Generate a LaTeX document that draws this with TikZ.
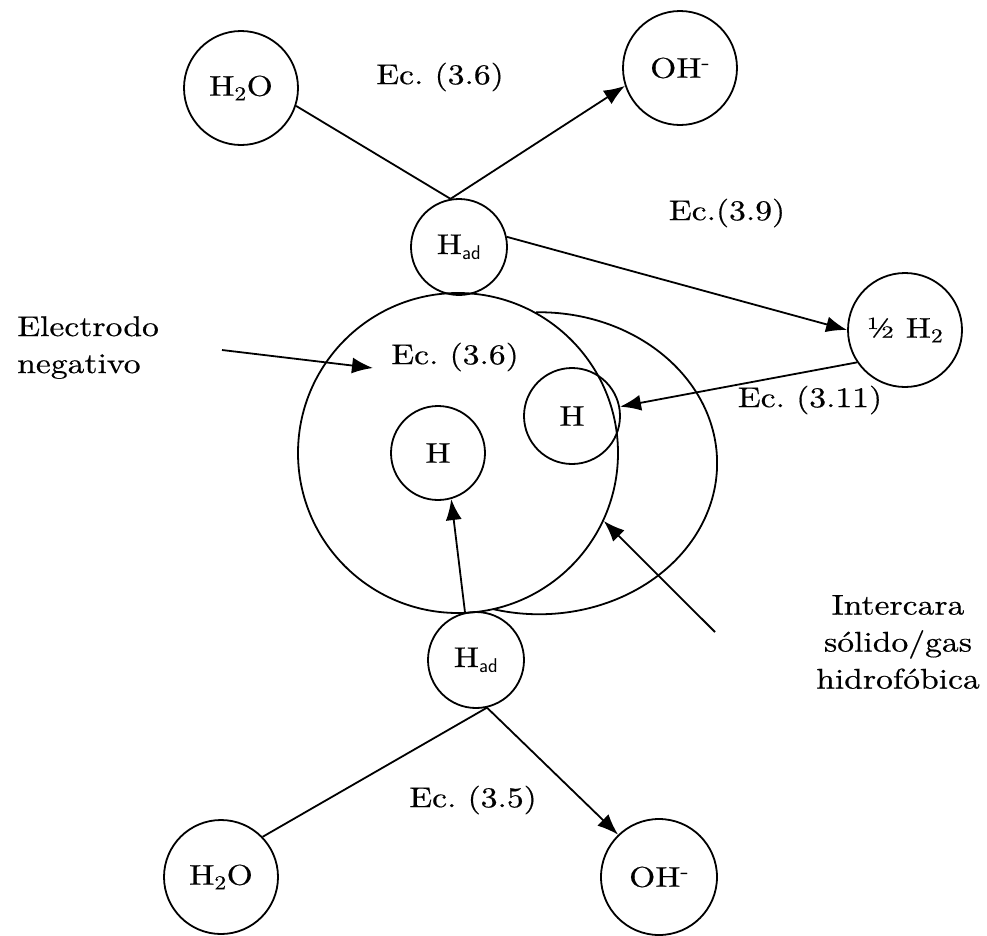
\documentclass[tikz,border=0pt]{standalone}
\usepackage{fontspec}
\setmainfont{lmroman10-regular.otf}[FakeStretch=1.18, FakeBold=0.5]
\usetikzlibrary{arrows.meta}
\newcommand{\diagfont}{\fontsize{28.5}{37}\selectfont\frenchspacing}
\begin{document}
\begin{tikzpicture}[x=1pt,y=-1pt,
  line width=1.8pt,
  every node/.style={font=\diagfont},
  species/.style={draw, circle, inner sep=0pt},
  conn/.style={-{Latex[length=21pt,width=16pt]}}]
\useasboundingbox (0,0) rectangle (987,935);

% species circles
\node[species, minimum size=114pt] (h2oT) at (241,88) {H\textsubscript{2}O};
\node[species, minimum size=114pt] (ohT) at (680,68) {OH\textsuperscript{-}};
\node[species, minimum size=96pt] (hadT) at (459,247) {H\textsubscript{\textsf{ad}}};
\node[species, minimum size=114pt] (half) at (905,330) {½ H\textsubscript{2}};
\node[species, minimum size=320pt] (elec) at (458,453) {};
\node[species, minimum size=94pt] (Hl) at (438,453) {H};
\node[species, minimum size=96pt] (Hr) at (572,416) {H};
\node[species, minimum size=96pt] (hadB) at (476,660) {H\textsubscript{\textsf{ad}}};
\node[species, minimum size=114pt] (h2oB) at (221,877) {H\textsubscript{2}O};
\node[species, minimum size=116pt] (ohB) at (659,877) {OH\textsuperscript{-}};

% hydrophobic solid/gas interface
\draw (elec.61) arc[start angle=91, end angle=-105, x radius=178pt, y radius=151pt];

% equation labels
\node (ecA) at (440,77) {Ec. (3.6)};
\node (ecB) at (727,213) {Ec.(3.9)};
\node (ecC) at (455,357) {Ec. (3.6)};
\node (ecD) at (810,400) {Ec. (3.11)};
\node (ecE) at (473,800) {Ec. (3.5)};

% descriptive labels
\node[align=center] (inter) at (898,642) {Intercara\\sólido/gas\\hidrofóbica};
\node[align=left, anchor=north west] (elneg) at (13,312) {Electrodo\\negativo};

% reactions
\draw (h2oT.-18) -- (hadT.100);
\draw[conn] (hadT.100) -- (ohT.198);
\draw[conn] (hadT.12) -- (half.180);
\draw[conn] (half.214) -- (Hr.11);
\draw[conn] (hadB.103) -- (Hl.-74);
\draw (hadB.-77) -- (h2oB.44);
\draw[conn] (hadB.-77) -- (ohB.134);

% pointers
\coordinate (elTail) at (222,350);
\coordinate (elTip) at (373,368);
\draw[conn] (elTail) -- (elTip);
\coordinate (inTail) at (715,632);
\draw[conn] (inTail) -- (elec.-25);
\end{tikzpicture}
\end{document}
